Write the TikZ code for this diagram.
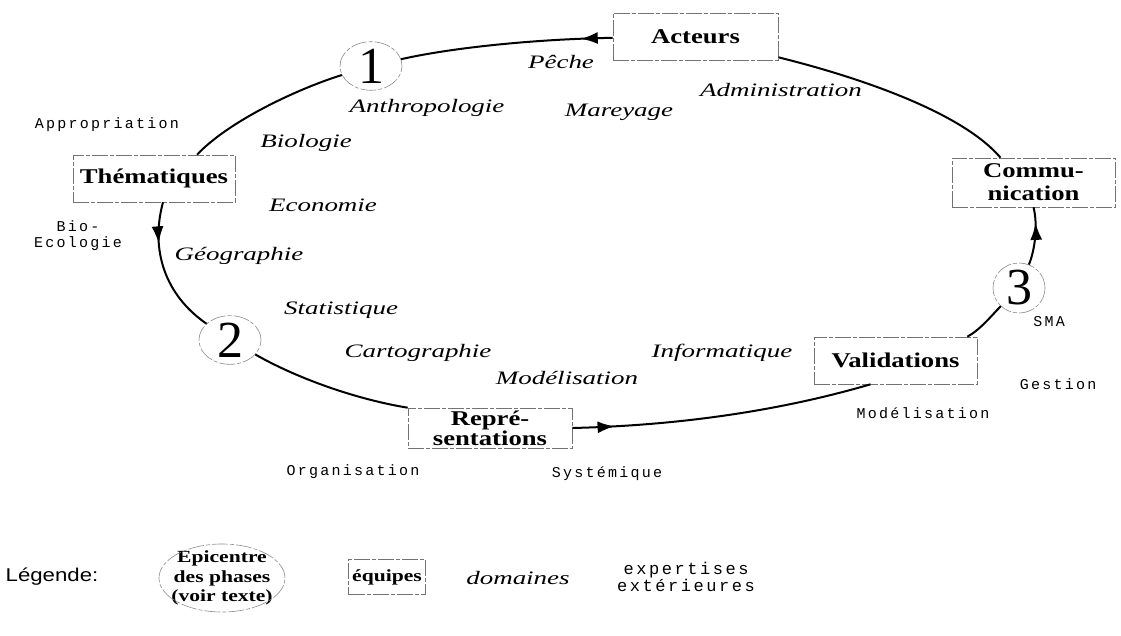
\documentclass[tikz,border=0pt]{standalone}
\usepackage{fontspec}
\setmainfont{Liberation Serif}
\newfontfamily\teamfont[FakeStretch=1.27]{Liberation Serif}
\newfontfamily\domfont[FakeStretch=1.42]{Liberation Serif}
\newfontfamily\expfont[LetterSpace=15]{Liberation Mono}
\newfontfamily\legfont[FakeStretch=1.2]{Liberation Sans}
\usetikzlibrary{arrows.meta,decorations.markings,shapes.geometric}

\begin{document}
\begin{tikzpicture}[x=1pt,y=-1pt,
  loopline/.style={line width=2pt, black},
  scanline/.style={draw=black!55, line width=0.6pt, dash pattern=on 16pt off 2pt on 4pt off 2pt},
  teambox/.style={scanline, inner sep=0pt, align=center,
    font=\teamfont\bfseries\fontsize{21}{23}\selectfont},
  phasering/.style={ellipse, scanline, draw=black!45, inner sep=0pt,
    minimum width=62pt, minimum height=48pt, font=\fontsize{52}{52}\selectfont},
  domword/.style={inner sep=0pt, font=\domfont\itshape\fontsize{19}{22}\selectfont},
  expword/.style={inner sep=0pt, align=center, font=\expfont\fontsize{15}{16}\selectfont},
  midarrow/.style={postaction={decorate}, decoration={markings,
    mark=at position #1 with {\arrow{Latex[length=17pt,width=12pt]}}}}
]
\useasboundingbox (0,0) rectangle (1121,636);
\fill[white] (0,0) rectangle (1121,636);

% teams
\node[teambox, minimum width=165pt, minimum height=47pt] (act)  at (695.5,36.5) {Acteurs};
\node[teambox, minimum width=162pt, minimum height=47pt] (them) at (154,178.5) {Thématiques};
\node[teambox, minimum width=164pt, minimum height=40pt,
      font=\teamfont\bfseries\fontsize{21}{20}\selectfont] (rep) at (490,428) {Repré-\\sentations};
\node[teambox, minimum width=163pt, minimum height=47pt] (val)  at (895.5,360.5) {Validations};
\node[teambox, minimum width=163pt, minimum height=49pt] (comm) at (1033.5,182.5) {Commu-\\nication};

% phase epicentres
\node[phasering] (p1) at (371,66) {1};
\node[phasering] (p2) at (230,340) {2};
\node[phasering, minimum width=52pt, minimum height=50pt] (p3) at (1019,288) {3};

% cycle
\draw[loopline, midarrow=0.15] (act) .. controls (540,39) and (455,47) .. (p1);
\draw[loopline] (p1) .. controls (300,88) and (230,120) .. ([xshift=43pt]them.north);
\draw[loopline, midarrow=0.3] ([xshift=9pt]them.south) .. controls (150,250) and (165,295) .. (p2);
\draw[loopline] (p2) .. controls (300,380) and (360,400) .. (rep.north west);
\draw[loopline, midarrow=0.14] (rep.east) .. controls (700,425) and (800,405) .. ([xshift=-25pt]val.south);
\draw[loopline] ([xshift=-10pt]val.north east) .. controls (980,330) and (992,315) .. (p3);
\draw[loopline, midarrow=0.73] (p3) .. controls (1035,250) and (1038,225) .. (comm.south);
\draw[loopline] ([xshift=-33pt]comm.north) .. controls (960,110) and (850,75) .. ([yshift=3pt]act.south east);

% domains
\node[domword] (d1)  at (561,62)  {Pêche};
\node[domword] (d2)  at (427,108) {Anthropologie};
\node[domword] (d3)  at (619,112) {Mareyage};
\node[domword] (d4)  at (781,90)  {Administration};
\node[domword] (d5)  at (306,143) {Biologie};
\node[domword] (d6)  at (323,205) {Economie};
\node[domword] (d7)  at (239,256) {Géographie};
\node[domword] (d8)  at (341,310) {Statistique};
\node[domword] (d9)  at (418,353) {Cartographie};
\node[domword] (d10) at (567,378) {Modélisation};
\node[domword] (d11) at (722,353) {Informatique};

% outside expertise
\node[expword] (e1) at (107,125)  {Appropriation};
\node[expword] (e2) at (78,236)   {Bio-\\Ecologie};
\node[expword] (e3) at (1049,322) {SMA};
\node[expword] (e4) at (1058,384) {Gestion};
\node[expword] (e5) at (923,413)  {Modélisation};
\node[expword] (e6) at (353,472)  {Organisation};
\node[expword] (e7) at (607,474)  {Systémique};

% key
\node[inner sep=0pt, font=\legfont\fontsize{18.5}{20}\selectfont] (key) at (52,577) {Légende:};
\node[inner sep=0pt, align=center,
      font=\teamfont\bfseries\fontsize{17}{19.5}\selectfont] (kepi) at (222,578) {Epicentre\\des phases\\(voir texte)};
\draw[scanline, draw=black!45] (kepi.center) ellipse [x radius=63pt, y radius=34pt];
\node[teambox, minimum width=77pt, minimum height=35pt,
      font=\teamfont\bfseries\fontsize{17}{18}\selectfont] (kteam) at (387,577) {équipes};
\node[domword] (kdom) at (518,578) {domaines};
\node[expword, font=\expfont\fontsize{17}{17}\selectfont] (kexp) at (686,577) {expertises\\extérieures};
\end{tikzpicture}
\end{document}
